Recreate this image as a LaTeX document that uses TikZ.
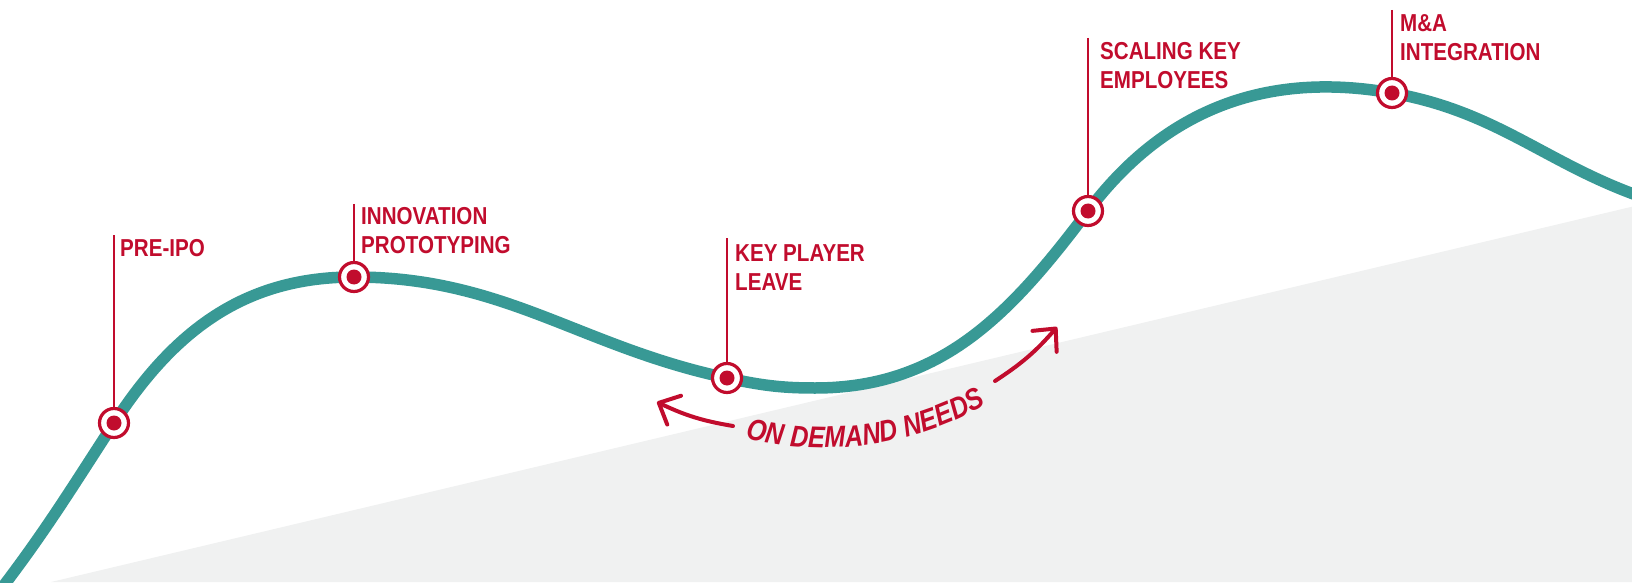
\documentclass[tikz,border=0pt]{standalone}
\usepackage{fontspec}
\usetikzlibrary{decorations.text,arrows.meta}
\newfontfamily\labfam[FakeStretch=0.84]{Liberation Sans}
\definecolor{labred}{RGB}{193,12,45}
\definecolor{curveteal}{RGB}{56,153,149}
\definecolor{bggray}{RGB}{240,241,241}
\newcommand{\demfont}{\labfam\bfseries\itshape\fontsize{30}{32}\selectfont\color{labred}}
\begin{document}
\begin{tikzpicture}[x=1pt,y=1pt,
  mk/.style={circle, draw=labred, line width=3.2pt, fill=white, minimum size=29pt, inner sep=0pt},
  lead/.style={draw=labred, line width=2.6pt},
  lab/.style={anchor=north west, inner sep=0pt, align=left, text=labred, font=\labfam\bfseries\fontsize{24.5}{29}\selectfont},
  demarrow/.style={draw=labred, line width=4pt, line cap=round, -{Straight Barb[length=17pt,width=32pt,round]}}
]
\useasboundingbox (0,0) rectangle (1632,582);
\clip (0,0) rectangle (1632,582);
% grey background wedge
\fill[bggray] (51,0) -- (1632,375.3) -- (1632,0) -- cycle;
% curve anchor points
\coordinate (c0) at (-12,-24);
\coordinate (p1) at (114,159);
\coordinate (p2) at (354,305);
\coordinate (p3) at (727,204);
\coordinate (low) at (815,194);
\coordinate (p4) at (1088,371);
\coordinate (p5) at (1392,489);
\coordinate (c9) at (1660,379);
% main curve
\draw[curveteal, line width=11.5pt]
  (c0) to[out=52,in=237] (p1)
       to[out=57,in=180] (p2)
       to[out=0,in=168] (p3)
       to[out=-12,in=180] (low)
       to[out=0,in=233] (p4)
       to[out=53,in=170] (p5)
       to[out=-10,in=163] (c9);
% markers
\node[mk] (m1) at (p1) {};
\node[mk] (m2) at (p2) {};
\node[mk] (m3) at (p3) {};
\node[mk] (m4) at (p4) {};
\node[mk] (m5) at (p5) {};
\foreach \m in {m1,m2,m3,m4,m5} \fill[labred] (\m.center) circle[radius=7.5];
% leader tops
\coordinate (t1) at (114,347);
\coordinate (t2) at (354,378);
\coordinate (t3) at (727,344);
\coordinate (t4) at (1088,544);
\coordinate (t5) at (1392,572);
\foreach \i in {1,...,5} \draw[lead] (t\i) -- (m\i.north);
% labels
\node[lab] (l1) at (120,343) {PRE-IPO};
\node[lab] (l2) at (361,375) {INNOVATION\\PROTOTYPING};
\node[lab] (l3) at (735,338) {KEY PLAYER\\LEAVE};
\node[lab] (l4) at (1100,540) {SCALING KEY\\EMPLOYEES};
\node[lab] (l5) at (1400,568) {M\&A\\INTEGRATION};
% on demand needs
\coordinate (a0) at (657,180);
\coordinate (a1) at (733,156);
\coordinate (b0) at (995,201);
\coordinate (b1) at (1057,255);
\draw[demarrow] (a1) to[bend left=8] (a0);
\draw[demarrow] (b0) to[bend right=8] (b1);
\path[decorate, decoration={text along path, text={|\demfont|ON DEMAND NEEDS}, text align=center}]
  (742,144.8) arc[start angle=255.4, end angle=300.3, radius=327.5];
\end{tikzpicture}
\end{document}
